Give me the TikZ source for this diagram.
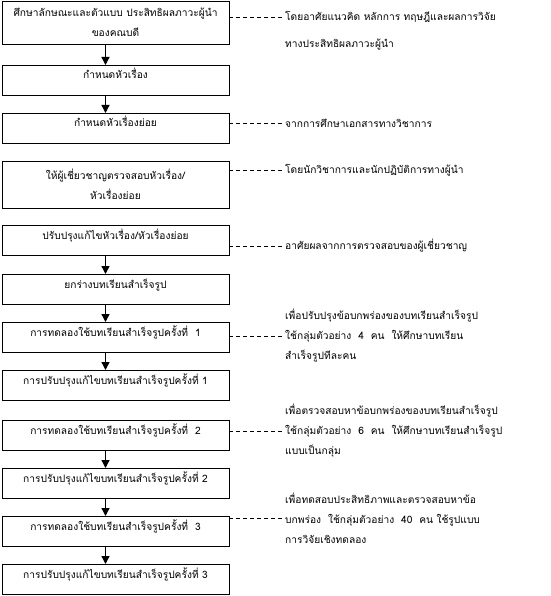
\documentclass[tikz,border=0pt]{standalone}
\usepackage{fontspec}
\newfontfamily\thaifont[Script=Thai]{Loma}
\usetikzlibrary{arrows.meta, positioning, calc}

\begin{document}
\begin{tikzpicture}[x=1pt, y=1pt, font=\thaifont\fontsize{10.2}{20}\selectfont,
    >={Triangle[width=8pt, length=8pt]}, node distance=18pt,
    stage/.style={draw, line width=0.8pt, minimum width=227pt, inner sep=3pt, outer sep=0pt, align=center},
    onerow/.style={stage, text height=11pt, text depth=13pt},
    tworow/.style={stage, minimum height=45pt},
    flow/.style={->, line width=1.3pt},
    tie/.style={draw, line width=0.6pt, dash pattern=on 4pt off 3pt},
    note/.style={anchor=west, align=left, inner sep=1pt}]

  \useasboundingbox (0,0) rectangle (550,-596);

  % The chain of stages (left column).
  \node[tworow, anchor=north west, minimum height=43pt] (b1) at (2,-1)
    {ศึกษาลักษณะและตัวแบบ ประสิทธิผลภาวะผู้นำ\\ของคณบดี};
  \node[onerow, below=21pt of b1] (b2) {กำหนดหัวเรื่อง};
  \node[onerow, below=of b2] (b3) {กำหนดหัวเรื่องย่อย};
  \node[tworow, minimum height=47pt, below=of b3] (b4) {ให้ผู้เชี่ยวชาญตรวจสอบหัวเรื่อง/\\หัวเรื่องย่อย};
  \node[onerow, below=17pt of b4] (b5) {ปรับปรุงแก้ไขหัวเรื่อง/หัวเรื่องย่อย};
  \node[onerow, below=19pt of b5] (b6) {ยกร่างบทเรียนสำเร็จรูป};
  \node[onerow, below=of b6] (b7) {การทดลองใช้บทเรียนสำเร็จรูปครั้งที่~~1};
  \node[onerow, below=of b7] (b8) {การปรับปรุงแก้ไขบทเรียนสำเร็จรูปครั้งที่ 1};
  \node[onerow, below=20pt of b8] (b9) {การทดลองใช้บทเรียนสำเร็จรูปครั้งที่~~2};
  \node[onerow, below=of b9] (b10) {การปรับปรุงแก้ไขบทเรียนสำเร็จรูปครั้งที่ 2};
  \node[onerow, below=of b10] (b11) {การทดลองใช้บทเรียนสำเร็จรูปครั้งที่~~3};
  \node[onerow, below=of b11] (b12) {การปรับปรุงแก้ไขบทเรียนสำเร็จรูปครั้งที่ 3};

  % Arrows between stages.
  \draw[flow] ([xshift=-10pt]b1.south) -- ([xshift=-10pt]b2.north);
  \draw[flow] ([xshift=-10pt]b2.south) -- ([xshift=-10pt]b3.north);
  \draw[flow] ([xshift=-10pt]b5.south) -- ([xshift=-10pt]b6.north);
  \draw[flow] ([xshift=-10pt]b6.south) -- ([xshift=-10pt]b7.north);
  \draw[flow] ([xshift=-10pt]b7.south) -- ([xshift=-10pt]b8.north);
  \draw[flow] ([xshift=-10pt]b9.south) -- ([xshift=-10pt]b10.north);
  \draw[flow] ([xshift=-10pt]b10.south) -- ([xshift=-10pt]b11.north);
  \draw[flow] ([xshift=-10pt]b11.south) -- ([xshift=-10pt]b12.north);

  % Notes on the right.
  \node[note, anchor=north west] (n1) at (284,-10)
    {โดยอาศัยแนวคิด หลักการ ทฤษฎีและผลการวิจัย\\[7pt]ทางประสิทธิผลภาวะผู้นำ};
  \node[note] (n3) at (284,-123) {จากการศึกษาเอกสารทางวิชาการ};
  \node[note] (n4) at (284,-170) {โดยนักวิชาการและนักปฏิบัติการทางผู้นำ};
  \node[note] (n5) at (284,-246) {อาศัยผลจากการตรวจสอบของผู้เชี่ยวชาญ};
  \node[note] (n7) at (284,-336)
    {เพื่อปรับปรุงข้อบกพร่องของบทเรียนสำเร็จรูป\\ใช้กลุ่มตัวอย่าง~~4~~คน~~ให้ศึกษาบทเรียน\\สำเร็จรูปทีละคน};
  \node[note] (n9) at (284,-431)
    {เพื่อตรวจสอบหาข้อบกพร่องของบทเรียนสำเร็จรูป\\ใช้กลุ่มตัวอย่าง~~6~~คน~~ให้ศึกษาบทเรียนสำเร็จรูป\\แบบเป็นกลุ่ม};
  \node[note] (n11) at (284,-518)
    {เพื่อทดสอบประสิทธิภาพและตรวจสอบหาข้อ\\บกพร่อง~~ใช้กลุ่มตัวอย่าง~~40~~คน ใช้รูปแบบ\\การวิจัยเชิงทดลอง};

  % Dashed ties from stages to notes.
  \coordinate (t1) at ([yshift=-7pt]n1.north west);
  \draw[tie] (b1.east |- t1) -- (t1);
  \draw[tie] (b3.east |- n3.west) -- (n3.west);
  \draw[tie] (b4.east |- n4.west) -- (n4.west);
  \draw[tie] (b5.east |- n5.west) -- (n5.west);
  \draw[tie] (b7.east |- n7.west) -- (n7.west);
  \draw[tie] (b9.east |- n9.west) -- (n9.west);
  \draw[tie] (b11.east |- n11.west) -- (n11.west);
\end{tikzpicture}
\end{document}
